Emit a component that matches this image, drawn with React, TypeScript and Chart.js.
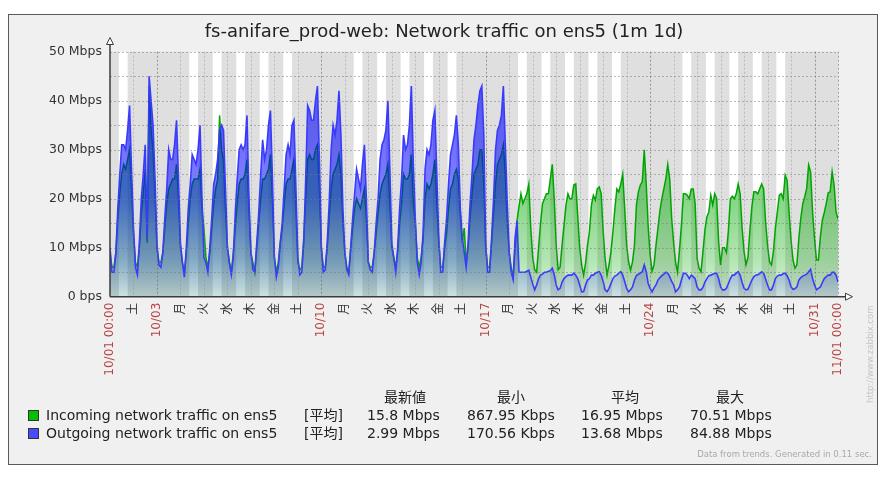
import React, { useEffect, useRef } from 'react';
import { Chart, registerables } from 'chart.js';

Chart.register(...registerables);

const W = 886;
const H = 477;

const TITLE = 'fs-anifare_prod-web: Network traffic on ens5 (1m 1d)';
const STEP_HOURS = 2;
const DAY_LABELS = [
  '10/01 00:00', '土', '10/03', '月', '火', '水', '木', '金', '土', '10/10',
  '月', '火', '水', '木', '金', '土', '10/17', '月', '火', '水',
  '木', '金', '土', '10/24', '月', '火', '水', '木', '金', '土',
  '10/31', '11/01 00:00',
];
const DATE_LABEL_IDX = [0, 2, 9, 16, 23, 30, 31];
const WORK_DAYS = [0, 3, 4, 5, 6, 7, 10, 11, 12, 13, 14, 17, 18, 19, 20, 21, 24, 25, 26, 27, 28];
const WORK_START_H = 9;
const WORK_END_H = 18;
const Y_TICKS = [0, 10, 20, 30, 40, 50];
const Y_GRID = [5, 10, 15, 20, 25, 30, 35, 40, 45, 50];

// Mbps, one value every 2 hours from 10/01 00:00 to 11/01 00:00
const INCOMING = [
  9, 6, 6, 9, 16, 21, 25, 27, 26, 28, 30, 22,
  13, 7, 6, 10, 17, 21, 26, 11, 43, 34, 30, 21,
  10, 7, 7, 9, 14, 19, 22, 23, 24, 24, 27, 20,
  10, 7, 5, 9, 15, 20, 23, 24, 24, 24, 26, 18,
  14, 8, 6, 9, 14, 19, 22, 24, 37, 30, 28, 18,
  10, 7, 5, 9, 14, 19, 23, 24, 24, 25, 28, 18,
  9, 7, 5, 10, 15, 20, 24, 24, 25, 26, 29, 20,
  8, 5, 7, 11, 14, 19, 23, 24, 24, 26, 28, 18,
  7, 5.5, 6, 12, 20, 28, 29, 28, 28, 30, 31, 22,
  10, 6, 6, 10, 16, 22, 25, 26, 27, 29, 25, 15,
  9, 6, 5, 10, 14, 18, 20, 19, 18, 20, 22, 16,
  7, 6, 6, 9, 13, 17, 21, 23, 24, 25, 27, 19,
  10, 8, 6, 9, 15, 19, 25, 24, 24, 25, 29, 19,
  15, 8, 6, 8, 12, 20, 23, 22, 23, 25, 28, 19,
  11, 6, 6, 10, 13, 18, 22, 23, 25, 26, 24, 17,
  11, 14, 7, 10, 16, 21, 25, 26, 27, 30, 30, 23,
  10, 6, 6, 11, 17, 23, 27, 28, 29, 31, 25, 15,
  9, 6, 4, 10, 15.5, 18.5, 21, 19, 20, 21, 23, 14,
  8, 5.5, 5, 10, 15, 19, 20, 21, 21, 24, 27, 20,
  10.5, 5.5, 6, 10.5, 14.6, 18.7, 21, 20, 20, 22.8, 23, 16.5,
  10, 6.5, 4.4, 6.8, 10.5, 13.3, 18.7, 20.7, 19.7, 22, 22.4, 21,
  13.3, 7.8, 4.4, 6.5, 9.2, 13.3, 18, 22, 21.4, 23, 25, 18,
  10.5, 7.1, 5.4, 7.1, 10.5, 18.7, 21.4, 22.8, 23.5, 30, 23, 14.3,
  8.5, 5.2, 6.5, 10.5, 14, 17.5, 20, 22, 24, 27, 24, 16,
  11, 7, 5, 9.5, 14.6, 21, 21, 20.7, 20, 22, 22, 19,
  7.8, 5.8, 5.1, 9.2, 13.6, 16.3, 17.3, 20.7, 18.7, 21, 20, 11.2,
  6.5, 10, 10, 9, 13.5, 20, 20.5, 20, 21, 23, 21, 14,
  9.2, 6.5, 8, 13.6, 18.4, 21.4, 21.4, 21, 22, 23, 22, 15.3,
  10.5, 7.1, 6.5, 9.2, 14, 17.3, 20.7, 21, 20, 24.8, 23.8, 17.3,
  11.6, 7.5, 5.8, 6.5, 11.9, 16, 19, 20.4, 22.1, 26.9, 25.5, 17.3,
  11.9, 7.5, 7.5, 12.2, 15.6, 17.2, 19, 21.2, 21.4, 25.5, 22.8, 17.3,
  15.8,
];

const OUTGOING = [
  10, 5, 5, 9, 18, 25, 31, 31, 30, 34, 39, 26,
  14, 6, 4.5, 11, 20, 25, 31, 12, 45, 40, 35, 24,
  10.5, 6.5, 6, 9, 16, 22, 30, 28, 28, 31, 36, 24,
  11, 7, 4, 10, 18, 23, 29, 28, 27, 30, 35, 20,
  8, 7, 5, 10, 16, 23, 25, 28, 34, 35, 34, 22,
  10, 7, 4.5, 8, 17, 24, 30, 31, 30, 31, 37, 20,
  9, 5.5, 5, 11, 17, 25, 32, 28, 30, 35, 38, 24,
  8, 4, 6, 11, 15, 22, 29, 31, 29, 35, 36, 22,
  8, 4.5, 5, 11, 24, 39, 38, 36, 36, 40, 43, 28,
  10, 5, 5.5, 11, 19, 30, 35, 33, 36, 42, 33, 18,
  9, 5.5, 4.5, 10, 16, 21, 26, 24, 22, 27, 31, 20,
  7, 5.5, 5, 9, 15, 20, 28, 31, 32, 34, 40, 26,
  11, 8, 5, 10, 18, 24, 33, 30, 31, 35, 43, 27,
  16, 7, 4.5, 7, 13, 26, 30, 29, 31, 36, 38, 25,
  12, 5, 5, 11, 16, 23, 29, 31, 33, 37, 31, 18,
  12, 9, 6, 11, 19, 25, 32, 35, 39, 42, 43, 33,
  10.5, 5, 5, 12, 20, 30, 34, 35, 37, 43, 31, 19,
  9, 5, 3.5, 12, 15.5, 5, 5, 5, 5, 5.2, 5.4, 4,
  2.6, 1.4, 2.4, 3.7, 4.4, 4.6, 5, 5, 5.2, 5.3, 5.8, 4.5,
  2.4, 1.4, 1.7, 3, 3.7, 4.1, 4.4, 4.4, 4.4, 4.8, 4.4, 3.7,
  2.4, 1, 1, 2.4, 3.4, 3.7, 4.4, 4.4, 4.8, 5, 5.1, 4.4,
  3.1, 1.4, 1, 1.7, 2.7, 3.7, 4.2, 4.4, 4.8, 5.1, 4.4, 3.1,
  1.7, 1, 1.4, 2, 3.4, 4.3, 4.6, 4.8, 5.1, 6.5, 5.1, 2.7,
  1.7, 1, 1.8, 2.4, 3.4, 3.9, 4.3, 4.6, 5, 4.8, 4.1, 3.1,
  2.4, 1, 1.4, 2, 3.4, 4.8, 4.8, 4.4, 3.7, 4.4, 4.1, 3.7,
  2, 1.4, 1.4, 1.9, 3, 3.7, 4.3, 4.4, 4.6, 4.8, 4.8, 3.7,
  2, 1.4, 1.4, 1.7, 2.7, 3.7, 4.4, 4.4, 4.8, 5.1, 4.4, 2.9,
  1.7, 1.4, 1.5, 2.5, 3.4, 4.1, 4.4, 4.5, 4.7, 5.1, 4.8, 3.6,
  2.4, 1.4, 1.4, 2.4, 3.7, 4.2, 4.4, 4.4, 4.7, 4.8, 4.3, 3.4,
  2, 1.5, 1.6, 2, 3.4, 3.9, 4.2, 4.4, 4.6, 5.1, 5.6, 3.7,
  2.4, 1.4, 1.7, 2, 2.9, 3.7, 4.1, 4.4, 4.4, 5, 5, 4.4,
  3,
];

const LEGEND_HEADERS = ['最新値', '最小', '平均', '最大'];
const LEGEND_NAMES = ['Incoming network traffic on ens5', 'Outgoing network traffic on ens5'];
const LEGEND_FUNC = '[平均]';
const IN_STATS = ['15.8 Mbps', '867.95 Kbps', '16.95 Mbps', '70.51 Mbps'];
const OUT_STATS = ['2.99 Mbps', '170.56 Kbps', '13.68 Mbps', '84.88 Mbps'];
const FOOTER = 'Data from trends. Generated in 0.11 sec.';
const WATERMARK = 'http://www.zabbix.com';

const FONT = '"DejaVu Sans", "Noto Sans CJK JP", sans-serif';
const GREEN_LINE = '#00a400';
const BLUE_LINE = '#3a3aff';
const GREEN_BOX = '#00c000';
const BLUE_BOX = '#4a4aff';
const GREEN_ALPHA: [number, number][] = [[0, 0.64], [0.2, 0.58], [0.6, 0.48], [0.85, 0.3], [1, 0.12]];
const BLUE_ALPHA: [number, number][] = [[0, 0.66], [0.2, 0.6], [0.6, 0.5], [0.85, 0.26], [1, 0.08]];

function gradient(rgb: string, stops: [number, number][]) {
  return (c: any) => {
    const chart = c.chart;
    const ca = chart.chartArea;
    if (!ca) return `rgba(${rgb},0.4)`;
    const g = chart.ctx.createLinearGradient(0, ca.top, 0, ca.bottom);
    for (const [p, a] of stops) g.addColorStop(p, `rgba(${rgb},${a})`);
    return g;
  };
}

const zbxPlugin = {
  id: 'zbx',
  beforeDraw(chart: any) {
    const ctx = chart.ctx;
    const ca = chart.chartArea;
    const xs = chart.scales.x;
    ctx.save();
    ctx.fillStyle = '#ffffff';
    ctx.fillRect(0, 0, W, H);
    ctx.fillStyle = '#f0f0f0';
    ctx.fillRect(8, 14, 870, 451);
    ctx.strokeStyle = '#5a5a5a';
    ctx.lineWidth = 1;
    ctx.strokeRect(8.5, 14.5, 869, 450);
    ctx.fillStyle = '#dfdfdf';
    ctx.fillRect(ca.left, ca.top, ca.right - ca.left, ca.bottom - ca.top);
    ctx.fillStyle = '#ffffff';
    for (const d of WORK_DAYS) {
      const x0 = xs.getPixelForValue(d * 24 + WORK_START_H);
      const x1 = xs.getPixelForValue(d * 24 + WORK_END_H);
      ctx.fillRect(x0, ca.top, x1 - x0, ca.bottom - ca.top);
    }
    ctx.restore();
  },
  afterDatasetsDraw(chart: any) {
    const ctx = chart.ctx;
    const ca = chart.chartArea;
    const xs = chart.scales.x;
    const ys = chart.scales.y;
    ctx.save();
    ctx.lineWidth = 1;
    ctx.setLineDash([2, 2]);
    ctx.strokeStyle = 'rgba(120,120,120,0.5)';
    for (const v of Y_GRID) {
      const y = Math.round(ys.getPixelForValue(v)) + 0.5;
      ctx.beginPath();
      ctx.moveTo(ca.left, y);
      ctx.lineTo(ca.right, y);
      ctx.stroke();
    }
    for (let d = 1; d < DAY_LABELS.length; d++) {
      const x = Math.round(xs.getPixelForValue(d * 24)) + 0.5;
      ctx.strokeStyle = DATE_LABEL_IDX.includes(d) ? 'rgba(100,100,100,0.6)' : 'rgba(130,130,130,0.38)';
      ctx.beginPath();
      ctx.moveTo(x, ca.top);
      ctx.lineTo(x, ca.bottom);
      ctx.stroke();
    }
    ctx.setLineDash([]);
    // axes
    ctx.strokeStyle = '#3c3c3c';
    ctx.lineWidth = 1.5;
    const ax = ca.left;
    const ay = ca.bottom;
    ctx.beginPath();
    ctx.moveTo(ax, ay);
    ctx.lineTo(ax, 44);
    ctx.moveTo(ax, ay);
    ctx.lineTo(845, ay);
    ctx.stroke();
    ctx.lineWidth = 1;
    ctx.fillStyle = '#ffffff';
    ctx.beginPath();
    ctx.moveTo(ax, 37.5);
    ctx.lineTo(ax - 3.5, 44.5);
    ctx.lineTo(ax + 3.5, 44.5);
    ctx.closePath();
    ctx.fill();
    ctx.stroke();
    ctx.beginPath();
    ctx.moveTo(852.5, ay);
    ctx.lineTo(845.5, ay - 3.5);
    ctx.lineTo(845.5, ay + 3.5);
    ctx.closePath();
    ctx.fill();
    ctx.stroke();
    ctx.restore();
  },
  afterDraw(chart: any) {
    const ctx = chart.ctx;
    ctx.save();
    ctx.fillStyle = '#222222';
    ctx.font = `18px ${FONT}`;
    ctx.textAlign = 'center';
    ctx.textBaseline = 'middle';
    ctx.fillText(TITLE, 444, 32);

    ctx.font = `14px ${FONT}`;
    const headX = [405, 511, 625, 730];
    LEGEND_HEADERS.forEach((t, i) => ctx.fillText(t, headX[i], 398));

    ctx.textAlign = 'left';
    const rows = [
      { y: 416, name: LEGEND_NAMES[0], stats: IN_STATS, box: GREEN_BOX },
      { y: 434, name: LEGEND_NAMES[1], stats: OUT_STATS, box: BLUE_BOX },
    ];
    const statX = [367, 467, 581, 690];
    for (const r of rows) {
      ctx.fillStyle = r.box;
      ctx.fillRect(28, r.y - 6, 11, 11);
      ctx.strokeStyle = '#333333';
      ctx.lineWidth = 1;
      ctx.strokeRect(28.5, r.y - 5.5, 10, 10);
      ctx.fillStyle = '#222222';
      ctx.fillText(r.name, 46, r.y);
      ctx.fillText(LEGEND_FUNC, 304, r.y);
      r.stats.forEach((s, i) => ctx.fillText(s, statX[i], r.y));
    }

    ctx.font = `8.5px ${FONT}`;
    ctx.fillStyle = '#a8a8a8';
    ctx.textAlign = 'right';
    ctx.fillText(FOOTER, 872, 455);

    ctx.translate(871, 403);
    ctx.rotate(-Math.PI / 2);
    ctx.textAlign = 'left';
    ctx.fillStyle = '#c4c4c4';
    ctx.fillText(WATERMARK, 0, 0);
    ctx.restore();
  },
};

export default function App() {
  const ref = useRef<HTMLCanvasElement | null>(null);
  useEffect(() => {
    const canvas = ref.current;
    if (!canvas) return;
    const inPts = INCOMING.map((v, i) => ({ x: i * STEP_HOURS, y: v }));
    const outPts = OUTGOING.map((v, i) => ({ x: i * STEP_HOURS, y: v }));
    const chart = new Chart(canvas, {
      type: 'line',
      data: {
        datasets: [
          {
            label: LEGEND_NAMES[0],
            data: inPts,
            borderColor: GREEN_LINE,
            borderWidth: 1.5,
            pointRadius: 0,
            tension: 0,
            fill: 'origin',
            backgroundColor: gradient('0,170,0', GREEN_ALPHA),
            order: 1,
          },
          {
            label: LEGEND_NAMES[1],
            data: outPts,
            borderColor: BLUE_LINE,
            borderWidth: 1.6,
            pointRadius: 0,
            tension: 0,
            fill: 'origin',
            backgroundColor: gradient('0,0,255', BLUE_ALPHA),
            order: 0,
          },
        ],
      } as any,
      options: {
        animation: false,
        responsive: false,
        maintainAspectRatio: false,
        devicePixelRatio: 1,
        layout: { padding: { left: 10, right: 48, top: 51.7, bottom: 0 } },
        plugins: { legend: { display: false }, tooltip: { enabled: false }, title: { display: false } },
        scales: {
          x: {
            type: 'linear',
            min: 0,
            max: (DAY_LABELS.length - 1) * 24,
            afterBuildTicks: (s: any) => {
              s.ticks = DAY_LABELS.map((_, i) => ({ value: i * 24 }));
            },
            afterFit: (s: any) => {
              s.height = H - 296.7;
            },
            grid: { display: false, drawTicks: false },
            border: { display: false },
            ticks: {
              autoSkip: false,
              minRotation: 90,
              maxRotation: 90,
              padding: 6,
              font: { family: FONT, size: 12 },
              color: (c: any) => (DATE_LABEL_IDX.includes(c.index) ? '#b84444' : '#333333'),
              callback: (_v: any, i: number) => DAY_LABELS[i],
            },
          },
          y: {
            min: 0,
            max: 50,
            afterBuildTicks: (s: any) => {
              s.ticks = Y_TICKS.map((v) => ({ value: v }));
            },
            afterFit: (s: any) => {
              s.width = 100;
            },
            grid: { display: false, drawTicks: false },
            border: { display: false },
            ticks: {
              padding: 8,
              font: { family: FONT, size: 12.5 },
              color: '#333333',
              callback: (v: any) => (v === 0 ? '0 bps' : `${v} Mbps`),
            },
          },
        },
      } as any,
      plugins: [zbxPlugin],
    });
    return () => chart.destroy();
  }, []);
  return (
    <div style={{ position: 'absolute', left: 0, top: 0, width: W, height: H }}>
      <canvas ref={ref} width={W} height={H} style={{ display: 'block', width: W, height: H }} />
    </div>
  );
}
